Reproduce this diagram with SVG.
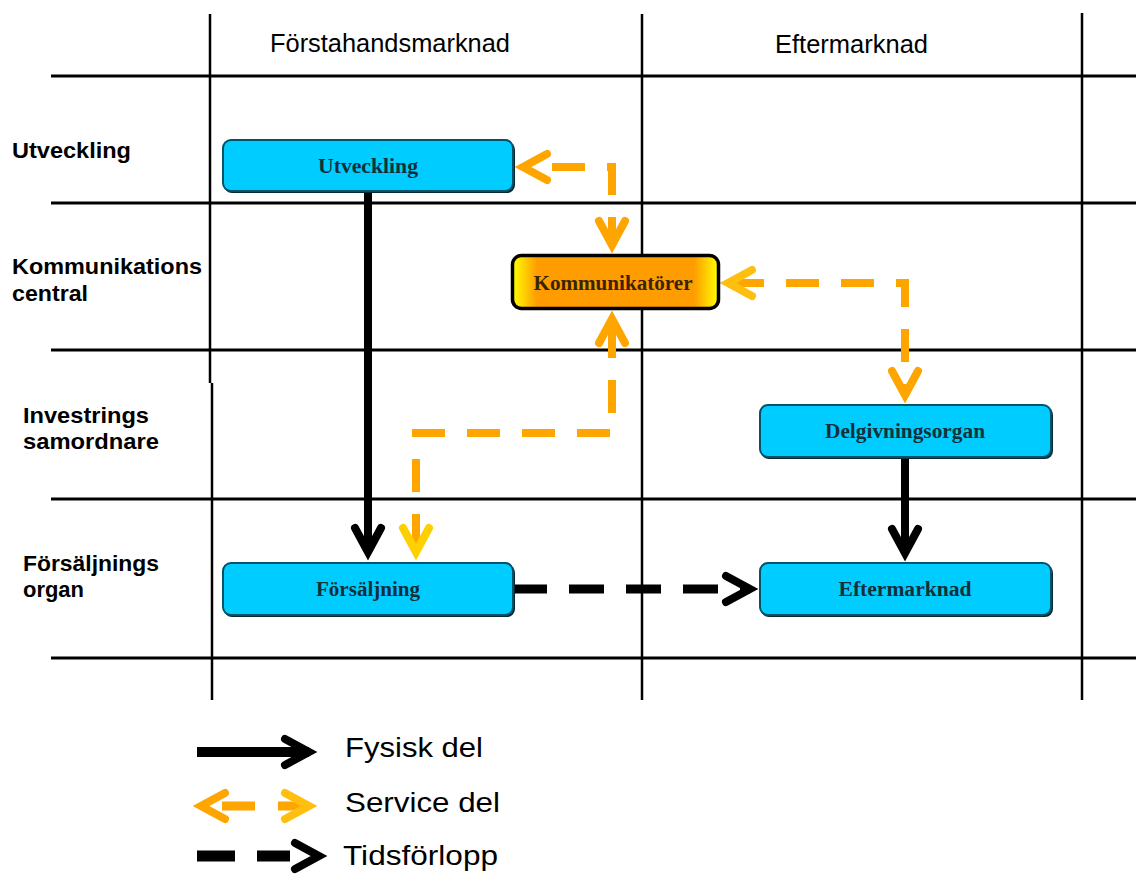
<svg xmlns="http://www.w3.org/2000/svg" width="1136" height="874" viewBox="0 0 1136 874">
  <style>
    .hline{stroke:#000;stroke-width:3;fill:none}
    .vline{stroke:#000;stroke-width:2.5;fill:none}
    .hdr{font-family:"Liberation Sans",Arial,sans-serif;font-size:25px;fill:#000}
    .row{font-family:"Liberation Sans",Arial,sans-serif;font-size:22px;font-weight:bold;fill:#000}
    .leg{font-family:"Liberation Sans",Arial,sans-serif;font-size:27px;fill:#000}
    .box{fill:#00CCFF;stroke:#00536b;stroke-width:2}
    .shadow{fill:#0a2a33}
    .ntext{font-family:"Liberation Serif","Times New Roman",serif;font-size:20px;font-weight:bold;fill:#12303a;text-anchor:middle}
    .phys{stroke:#000;stroke-width:8;fill:none}
    .time{stroke:#000;stroke-width:9;stroke-dasharray:35 22;fill:none}
    .svc{stroke:#FFA500;stroke-width:8;stroke-dasharray:33 22;fill:none}
  </style>
  <defs>
    <linearGradient id="kommFill" x1="0" y1="0" x2="1" y2="0">
      <stop offset="0" stop-color="#FFFF00"/>
      <stop offset="0.12" stop-color="#FF9C00"/>
      <stop offset="0.88" stop-color="#FF9C00"/>
      <stop offset="1" stop-color="#FFFF00"/>
    </linearGradient>
    <marker id="headBlack" markerUnits="userSpaceOnUse" markerWidth="60" markerHeight="60" viewBox="-40 -30 60 60" refX="0" refY="0" orient="auto-start-reverse" overflow="visible">
      <path d="M-24,-13 L0,0 L-24,13" fill="none" stroke="#000" stroke-width="8" stroke-linecap="round" stroke-linejoin="miter"/>
    </marker>
    <marker id="headOrange" markerUnits="userSpaceOnUse" markerWidth="60" markerHeight="60" viewBox="-40 -30 60 60" refX="0" refY="0" orient="auto-start-reverse" overflow="visible">
      <path d="M-24,-13 L0,0 L-24,13" fill="none" stroke="#FFA500" stroke-width="8" stroke-linecap="round" stroke-linejoin="miter"/>
    </marker>
    <marker id="headAmber" markerUnits="userSpaceOnUse" markerWidth="60" markerHeight="60" viewBox="-40 -30 60 60" refX="0" refY="0" orient="auto-start-reverse" overflow="visible">
      <path d="M-24,-13 L0,0 L-24,13" fill="none" stroke="#FFBF10" stroke-width="8" stroke-linecap="round" stroke-linejoin="miter"/>
    </marker>
    <marker id="headGold" markerUnits="userSpaceOnUse" markerWidth="60" markerHeight="60" viewBox="-40 -30 60 60" refX="0" refY="0" orient="auto-start-reverse" overflow="visible">
      <path d="M-24,-13 L0,0 L-24,13" fill="none" stroke="#FFD000" stroke-width="8" stroke-linecap="round" stroke-linejoin="miter"/>
    </marker>
  </defs>

  <rect width="1136" height="874" fill="#fff"/>

  <!-- table grid -->
  <g id="grid">
    <line class="hline" x1="51" y1="76" x2="1136" y2="76"/>
    <line class="hline" x1="51" y1="203" x2="1136" y2="203"/>
    <line class="hline" x1="51" y1="350" x2="1136" y2="350"/>
    <line class="hline" x1="51" y1="499" x2="1136" y2="499"/>
    <line class="hline" x1="51" y1="658" x2="1136" y2="658"/>
    <line class="vline" x1="210" y1="14" x2="210" y2="383"/>
    <line class="vline" x1="212" y1="383" x2="212" y2="700"/>
    <line class="vline" x1="642" y1="14" x2="642" y2="700"/>
    <line class="vline" x1="1082" y1="13" x2="1082" y2="700"/>
  </g>

  <!-- column and row headings -->
  <g id="headings">
    <text class="hdr" x="270" y="52" textLength="240" lengthAdjust="spacingAndGlyphs">Förstahandsmarknad</text>
    <text class="hdr" x="775" y="53" textLength="153" lengthAdjust="spacingAndGlyphs">Eftermarknad</text>
    <text class="row" x="12" y="158" textLength="119" lengthAdjust="spacingAndGlyphs">Utveckling</text>
    <text class="row" x="12" y="274" textLength="190" lengthAdjust="spacingAndGlyphs">Kommunikations</text>
    <text class="row" x="12" y="301" textLength="76" lengthAdjust="spacingAndGlyphs">central</text>
    <text class="row" x="23" y="423" textLength="126" lengthAdjust="spacingAndGlyphs">Investrings</text>
    <text class="row" x="23" y="449" textLength="136" lengthAdjust="spacingAndGlyphs">samordnare</text>
    <text class="row" x="23" y="571" textLength="136" lengthAdjust="spacingAndGlyphs">Försäljnings</text>
    <text class="row" x="23" y="597" textLength="61" lengthAdjust="spacingAndGlyphs">organ</text>
  </g>

  <!-- connectors -->
  <g id="connectors">
    <path class="phys" d="M368,192 V552" marker-end="url(#headBlack)"/>
    <path class="phys" d="M905,458 V553" marker-end="url(#headBlack)"/>
    <path class="time" d="M512,589 H750" marker-end="url(#headBlack)"/>
    <path class="svc" d="M523,167 H612 V245" stroke-dashoffset="26" marker-start="url(#headOrange)" marker-end="url(#headOrange)"/>
    <path class="svc" d="M728,283 H905 V395" stroke-dashoffset="-3" marker-start="url(#headAmber)" marker-end="url(#headOrange)"/>
    <path class="svc" d="M612,319 V433 H416 V552" stroke-dashoffset="49" marker-start="url(#headOrange)" marker-end="url(#headGold)"/>
  </g>

  <!-- nodes -->
  <g id="node-utveckling">
    <rect class="shadow" x="224" y="142" width="291" height="51" rx="8"/>
    <rect class="box" x="223" y="140" width="290" height="51" rx="8"/>
    <text class="ntext" x="368" y="173" textLength="100" lengthAdjust="spacingAndGlyphs">Utveckling</text>
  </g>
  <g id="node-kommunikatorer">
    <rect x="512.5" y="255.5" width="206" height="53" rx="9" fill="url(#kommFill)" stroke="#000" stroke-width="3.5"/>
    <text class="ntext" x="613" y="290" textLength="159" lengthAdjust="spacingAndGlyphs" style="fill:#3a2400">Kommunikatörer</text>
  </g>
  <g id="node-delgivningsorgan">
    <rect class="shadow" x="761" y="407" width="292" height="52" rx="8"/>
    <rect class="box" x="760" y="405" width="291" height="52" rx="8"/>
    <text class="ntext" x="905" y="438" textLength="160" lengthAdjust="spacingAndGlyphs">Delgivningsorgan</text>
  </g>
  <g id="node-forsaljning">
    <rect class="shadow" x="224" y="565" width="291" height="52" rx="8"/>
    <rect class="box" x="223" y="563" width="290" height="52" rx="8"/>
    <text class="ntext" x="368" y="596" textLength="104" lengthAdjust="spacingAndGlyphs">Försäljning</text>
  </g>
  <g id="node-eftermarknad">
    <rect class="shadow" x="761" y="565" width="292" height="52" rx="8"/>
    <rect class="box" x="760" y="563" width="291" height="52" rx="8"/>
    <text class="ntext" x="905" y="596" textLength="133" lengthAdjust="spacingAndGlyphs">Eftermarknad</text>
  </g>

  <!-- legend -->
  <g id="legend">
    <path d="M197,752 H309" stroke="#000" stroke-width="10" fill="none" marker-end="url(#headBlack)"/>
    <path d="M201,806 H309" stroke="#FFA500" stroke-width="9" fill="none" stroke-dasharray="0 21 33 23 31 100" marker-start="url(#headOrange)" marker-end="url(#headAmber)"/>
    <path d="M197,856 H319" stroke="#000" stroke-width="11" fill="none" stroke-dasharray="38 22 33 100" marker-end="url(#headBlack)"/>
    <text class="leg" x="345" y="757" textLength="138" lengthAdjust="spacingAndGlyphs">Fysisk del</text>
    <text class="leg" x="345" y="812" textLength="155" lengthAdjust="spacingAndGlyphs">Service del</text>
    <text class="leg" x="343" y="865" textLength="155" lengthAdjust="spacingAndGlyphs">Tidsförlopp</text>
  </g>
</svg>
